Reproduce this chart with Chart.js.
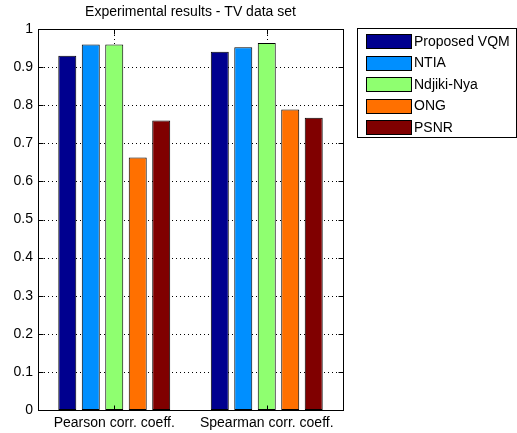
<!DOCTYPE html>
<html><head><meta charset="utf-8">
<script src="https://cdn.jsdelivr.net/npm/chart.js@4.4.1/dist/chart.umd.min.js"></script>
<style>html,body{margin:0;padding:0;background:#fff}canvas{display:block}</style>
</head><body>
<canvas id="c" width="517" height="433"></canvas>
<script>
const titleText = 'Experimental results - TV data set';
const categories = ['Pearson corr. coeff.', 'Spearman corr. coeff.'];
const methods = ['Proposed VQM', 'NTIA', 'Ndjiki-Nya', 'ONG', 'PSNR'];
const proposedVQM = [0.930, 0.940];
const ntia = [0.959, 0.952];
const ndjikiNya = [0.959, 0.963];
const ong = [0.663, 0.789];
const psnr = [0.760, 0.767];
const yTickValues = [0, 0.1, 0.2, 0.3, 0.4, 0.5, 0.6, 0.7, 0.8, 0.9, 1];
const colors = ['#00008F', '#008FFF', '#8FFF70', '#FF7000', '#800000'];

const seriesValues = [proposedVQM, ntia, ndjikiNya, ong, psnr];
const FONT = '"Liberation Sans", Arial, Helvetica, sans-serif';
Chart.defaults.font.family = FONT;
Chart.defaults.font.size = 14;
Chart.defaults.color = '#000';

function dottedLine(ctx, x0, y0, x1, y1) {
  ctx.save();
  ctx.strokeStyle = '#000';
  ctx.lineWidth = 1;
  ctx.setLineDash([1, 3]);
  ctx.beginPath();
  ctx.moveTo(x0, y0);
  ctx.lineTo(x1, y1);
  ctx.stroke();
  ctx.restore();
}

const boxPlugin = {
  id: 'matlabBox',
  beforeDraw(chart) {
    const ctx = chart.ctx;
    ctx.save();
    ctx.fillStyle = '#fff';
    ctx.fillRect(0, 0, chart.width, chart.height);
    ctx.restore();
  },
  beforeDatasetsDraw(chart) {
    const ctx = chart.ctx, a = chart.chartArea;
    const ys = chart.scales.y, xs = chart.scales.x;
    const L = Math.round(a.left), R = Math.round(a.right);
    const T = Math.round(a.top), B = Math.round(a.bottom);
    yTickValues.forEach((v) => {
      const y = Math.round(ys.getPixelForValue(v));
      if (y <= T + 1 || y >= B - 1) return;
      dottedLine(ctx, L + 2, y + 0.5, R, y + 0.5);
    });
    xs.ticks.forEach((t, i) => {
      const x = Math.round(xs.getPixelForValue(i)) + 0.5;
      dottedLine(ctx, x, T + 2, x, B);
    });
  },
  afterDraw(chart) {
    const ctx = chart.ctx, a = chart.chartArea;
    const L = Math.round(a.left) + 0.5, R = Math.round(a.right) + 0.5;
    const T = Math.round(a.top) + 0.5, B = Math.round(a.bottom) + 0.5;
    ctx.save();
    ctx.strokeStyle = '#000';
    ctx.lineWidth = 1;
    ctx.strokeRect(L, T, R - L, B - T);
    const ys = chart.scales.y, xs = chart.scales.x;
    ctx.beginPath();
    yTickValues.forEach((v) => {
      const y = Math.round(ys.getPixelForValue(v)) + 0.5;
      ctx.moveTo(L, y); ctx.lineTo(L + 5, y);
      ctx.moveTo(R, y); ctx.lineTo(R - 5, y);
    });
    xs.ticks.forEach((t, i) => {
      const x = Math.round(xs.getPixelForValue(i)) + 0.5;
      ctx.moveTo(x, B); ctx.lineTo(x, B - 5);
      ctx.moveTo(x, T); ctx.lineTo(x, T + 5);
    });
    ctx.stroke();
    ctx.fillStyle = '#000';
    ctx.font = '14px ' + FONT;
    ctx.textAlign = 'center';
    ctx.textBaseline = 'middle';
    ctx.fillText(titleText, (a.left + a.right) / 2, 12);
    const lx = 357.5, ly = 28.5, lw = 159, lh = 109;
    ctx.fillStyle = '#fff';
    ctx.fillRect(lx, ly, lw, lh);
    ctx.strokeStyle = '#000';
    ctx.strokeRect(lx, ly, lw, lh);
    ctx.textAlign = 'left';
    chart.data.datasets.forEach((ds, i) => {
      const cy = 41 + i * 21.5;
      const sy = Math.round(cy - 7) + 0.5;
      ctx.fillStyle = ds.backgroundColor;
      ctx.fillRect(366.5, sy, 45, 14);
      ctx.strokeStyle = '#000';
      ctx.strokeRect(366.5, sy, 45, 14);
      ctx.fillStyle = '#000';
      ctx.fillText(ds.label, 414, cy + 1);
    });
    ctx.restore();
  }
};

new Chart(document.getElementById('c'), {
  type: 'bar',
  data: {
    labels: categories,
    datasets: methods.map((m, i) => ({
      label: m,
      data: seriesValues[i],
      backgroundColor: colors[i],
      borderColor: '#000',
      borderWidth: 1,
      borderSkipped: false,
      categoryPercentage: 0.77,
      barPercentage: 0.766
    }))
  },
  options: {
    responsive: false,
    devicePixelRatio: 1,
    animation: false,
    layout: { padding: { left: 0, right: 174, top: 29, bottom: 0 } },
    plugins: { legend: { display: false }, title: { display: false }, tooltip: { enabled: false } },
    scales: {
      x: {
        offset: true,
        grid: { display: false, drawTicks: false },
        border: { display: false },
        ticks: { padding: 5, font: { size: 14 }, color: '#000' },
        afterFit(s) { s.height = 23; }
      },
      y: {
        min: 0, max: 1,
        afterBuildTicks(s) { s.ticks = yTickValues.map(v => ({ value: v })); },
        grid: { display: false, drawTicks: false },
        border: { display: false },
        ticks: {
          padding: 5,
          font: { size: 14 },
          color: '#000',
          callback: (v) => String(Number(Number(v).toFixed(1)))
        },
        afterFit(s) { s.width = 38; }
      }
    }
  },
  plugins: [boxPlugin]
});
</script>
</body></html>
